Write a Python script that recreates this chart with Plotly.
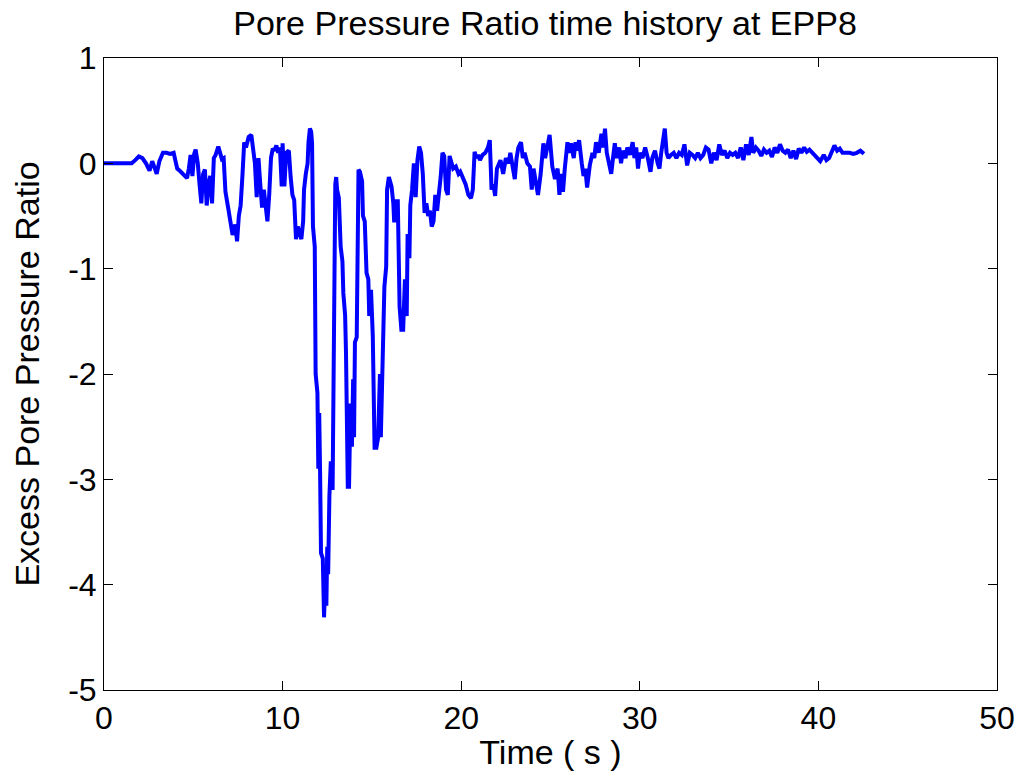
import plotly.graph_objects as go

# ---- data ----
time_s = [
    0, 1.55, 1.75, 1.95, 2.15, 2.35, 2.55, 2.7, 2.85, 2.95, 3.1, 3.3,
    3.5, 3.7, 3.9, 4.0, 4.1, 4.3, 4.5, 4.65, 4.75, 4.85, 4.95, 5.05, 5.13, 5.25,
    5.35, 5.45, 5.55, 5.65, 5.75, 5.85, 5.95, 6.05, 6.15, 6.25, 6.4, 6.5, 6.6, 6.7,
    6.8, 6.95, 7.05, 7.2, 7.35, 7.45, 7.55, 7.65, 7.75, 7.85, 7.95, 8.1, 8.25, 8.35,
    8.45, 8.55, 8.65, 8.75, 8.85, 8.95, 9.05, 9.15, 9.25, 9.35, 9.45, 9.55, 9.65,
    9.75, 9.85, 9.95, 10.0, 10.1, 10.2, 10.35, 10.45, 10.55, 10.65, 10.75, 10.85,
    10.95, 11.05, 11.15, 11.2, 11.3, 11.4, 11.45, 11.53, 11.6, 11.65, 11.7, 11.8,
    11.85, 11.95, 12.0, 12.05, 12.1, 12.15, 12.25, 12.32, 12.4, 12.45, 12.5, 12.55,
    12.62, 12.7, 12.8, 12.9, 12.95, 13.0, 13.05, 13.15, 13.25, 13.35, 13.4, 13.5,
    13.55, 13.65, 13.72, 13.8, 13.88, 13.95, 14.0, 14.05, 14.15, 14.25, 14.33,
    14.45, 14.5, 14.6, 14.7, 14.8, 14.85, 14.95, 15.05, 15.15, 15.25, 15.35, 15.45,
    15.5, 15.6, 15.7, 15.8, 15.85, 15.95, 16.1, 16.2, 16.25, 16.35, 16.45, 16.55,
    16.65, 16.75, 16.85, 16.95, 17.0, 17.1, 17.15, 17.25, 17.35, 17.45, 17.55,
    17.65, 17.75, 17.85, 17.95, 18.05, 18.15, 18.25, 18.35, 18.45, 18.55, 18.65,
    18.75, 18.85, 18.95, 19.05, 19.15, 19.25, 19.35, 19.45, 19.55, 19.7, 19.85,
    19.95, 20.1, 20.25, 20.4, 20.55, 20.65, 20.75, 20.85, 20.95, 21.05, 21.2,
    21.35, 21.5, 21.6, 21.7, 21.8, 21.9, 22.0, 22.1, 22.2, 22.35, 22.5, 22.65,
    22.75, 22.9, 23.0, 23.1, 23.2, 23.35, 23.45, 23.55, 23.7, 23.85, 23.95, 24.05,
    24.2, 24.3, 24.45, 24.6, 24.7, 24.8, 24.95, 25.1, 25.25, 25.4, 25.5, 25.6,
    25.7, 25.8, 25.95, 26.05, 26.15, 26.3, 26.4, 26.5, 26.6, 26.75, 26.85, 26.95,
    27.05, 27.2, 27.35, 27.45, 27.55, 27.7, 27.85, 27.95, 28.05, 28.15, 28.3,
    28.4, 28.5, 28.6, 28.7, 28.85, 28.95, 29.05, 29.2, 29.3, 29.45, 29.6, 29.7,
    29.8, 29.9, 30.0, 30.15, 30.3, 30.45, 30.6, 30.7, 30.85, 31.0, 31.1, 31.2,
    31.3, 31.4, 31.5, 31.6, 31.75, 31.9, 32.05, 32.2, 32.35, 32.5, 32.65, 32.8,
    32.95, 33.1, 33.25, 33.4, 33.55, 33.7, 33.85, 34.0, 34.15, 34.3, 34.45, 34.6,
    34.75, 34.9, 35.05, 35.2, 35.35, 35.5, 35.65, 35.8, 35.95, 36.1, 36.25, 36.35,
    36.5, 36.65, 36.8, 36.95, 37.1, 37.25, 37.4, 37.55, 37.7, 37.85, 38.0, 38.15,
    38.3, 38.45, 38.6, 38.75, 38.9, 39.05, 39.2, 39.35, 39.5, 39.65, 39.8, 39.95,
    40.1, 40.3, 40.45, 40.6, 40.75, 40.9, 41.05, 41.2, 41.35, 41.55, 41.75, 41.95,
    42.15, 42.35, 42.55,
]

pore_ratio = [
    0, 0, 0.03, 0.065, 0.05, 0.0, -0.07, 0.02, -0.05, -0.1, 0.02, 0.1,
    0.1, 0.09, 0.1, 0.02, -0.05, -0.08, -0.12, -0.14, -0.05, 0.08, -0.12, 0.09, 0.13, 0.0,
    -0.2, -0.38, -0.1, -0.06, -0.4, -0.2, -0.12, -0.38, 0.05, 0.08, 0.16, 0.1, 0.04, 0.05,
    -0.27, -0.42, -0.55, -0.68, -0.58, -0.74, -0.5, -0.4, -0.12, 0.2, 0.15, 0.25, 0.27, 0.15,
    0.0, -0.32, 0.05, -0.2, -0.42, -0.25, -0.4, -0.55, -0.3, 0.05, 0.14, 0.12, 0.17,
    0.1, 0.15, -0.22, 0.19, -0.22, 0.1, 0.12, -0.13, -0.3, -0.35, -0.72, -0.6,
    -0.65, -0.72, -0.55, -0.25, -0.1, 0.0, 0.2, 0.33, 0.3, 0.19, -0.6, -0.79,
    -2.0, -2.18, -2.9, -2.37, -2.94, -3.7, -3.75, -4.31, -3.9, -4.2, -3.64, -3.9,
    -3.16, -2.83, -3.1, -0.7, -0.2, -0.13, -0.25, -0.33, -0.79, -0.93, -1.23, -1.44,
    -1.8, -3.07, -3.07, -2.28, -2.69, -2.05, -2.6, -1.7, -1.65, -0.06, -0.08,
    -0.17, -0.5, -0.55, -1.04, -1.1, -1.45, -1.2, -1.64, -2.7, -2.7, -2.6, -2.0,
    -2.6, -1.85, -1.17, -0.98, -0.25, -0.13, -0.22, -0.38, -0.56, -0.36, -0.36, -1.36,
    -1.58, -1.58, -1.1, -1.45, -0.67, -0.9, -0.4, -0.25, 0.0, -0.32, 0.03,
    0.16, 0.1, -0.1, -0.47, -0.38, -0.5, -0.45, -0.6, -0.55, -0.3, -0.45,
    -0.3, -0.13, 0.1, 0.07, -0.25, -0.3, 0.07, 0.0, -0.05, -0.03, -0.1,
    -0.08, -0.15, -0.2, -0.3, -0.33, -0.25, 0.11, 0.05, 0.08, 0.03, 0.08,
    0.1, 0.15, 0.22, -0.25, -0.2, -0.31, -0.05, 0.0, 0.03, -0.1, 0.05, 0.0,
    0.1, -0.05, -0.15, 0.05, 0.15, 0.2, 0.05, 0.1, 0.0, -0.03, -0.25, -0.05,
    -0.2, -0.3, -0.1, 0.19, 0.05, 0.15, 0.27, -0.03, -0.15, -0.05, -0.3, -0.1,
    -0.27, -0.05, 0.2, 0.1, 0.19, 0.05, 0.2, 0.12, 0.22, 0.0, -0.12, -0.05,
    -0.23, -0.02, 0.1, 0.05, 0.2, 0.1, 0.28, 0.15, 0.33, 0.1, 0.0,
    -0.1, 0.05, 0.19, 0.05, 0.15, 0.0, 0.12, 0.05, 0.15, 0.08, 0.2, 0.05,
    0.15, -0.05, 0.1, 0.05, 0.15, 0.05, -0.08, 0.05, 0.12, 0.0, -0.05, 0.1,
    0.2, 0.33, 0.1, 0.05, 0.08, 0.1, 0.05, 0.1, 0.08, 0.18, -0.02, 0.1,
    0.08, 0.05, 0.1, 0.05, 0.08, 0.15, 0.13, 0.0, 0.1, 0.03, 0.18, 0.08,
    0.12, 0.05, 0.1, 0.08, 0.1, 0.05, 0.15, 0.03, 0.18, 0.08, 0.25, 0.1,
    0.15, 0.12, 0.07, 0.13, 0.1, 0.12, 0.06, 0.15, 0.1, 0.18, 0.12, 0.1,
    0.13, 0.05, 0.12, 0.04, 0.14, 0.1, 0.15, 0.11, 0.13, 0.1, 0.07, 0.05,
    0.02, 0.08, 0.03, 0.05, 0.12, 0.17, 0.12, 0.14, 0.1, 0.1, 0.1, 0.09,
    0.1, 0.12, 0.09,
]

x_ticks = [0, 10, 20, 30, 40, 50]
x_tick_labels = ["0", "10", "20", "30", "40", "50"]
y_ticks = [-5, -4, -3, -2, -1, 0, 1]
y_tick_labels = ["-5", "-4", "-3", "-2", "-1", "0", "1"]

FONT = "Arial, Liberation Sans, Helvetica, sans-serif"

fig = go.Figure()
fig.add_trace(go.Scatter(
    x=time_s, y=pore_ratio, mode="lines",
    line=dict(color="#0000FF", width=4),
    showlegend=False, hoverinfo="skip",
))

axis_common = dict(
    showgrid=False, zeroline=False, automargin=False,
    showline=True, linecolor="black", linewidth=1, mirror="ticks",
    ticks="inside", ticklen=9, tickwidth=1, tickcolor="black",
    tickfont=dict(family=FONT, size=32, color="black"),
)

fig.update_layout(
    width=1021, height=776,
    margin=dict(l=104, r=24, t=58, b=86),
    paper_bgcolor="white", plot_bgcolor="white",
    title=dict(
        text="Pore Pressure Ratio time history at EPP8",
        font=dict(family=FONT, size=34, color="black"),
        x=545 / 1021, xanchor="center", xref="container",
        y=1 - 23 / 776, yanchor="middle", yref="container",
    ),
    xaxis=dict(
        range=[0, 50], tickvals=x_ticks, ticktext=x_tick_labels,
        title=dict(text="Time ( s )", font=dict(family=FONT, size=34, color="black"),
                   standoff=4),
        **axis_common,
    ),
    yaxis=dict(
        range=[-5, 1], tickvals=y_ticks, ticktext=y_tick_labels,
        title=dict(text="Excess Pore Pressure Ratio",
                   font=dict(family=FONT, size=34, color="black"), standoff=18),
        **axis_common,
    ),
)

fig.write_html("out.html", config={"displayModeBar": False},
               post_script="document.body.style.margin='0';")
